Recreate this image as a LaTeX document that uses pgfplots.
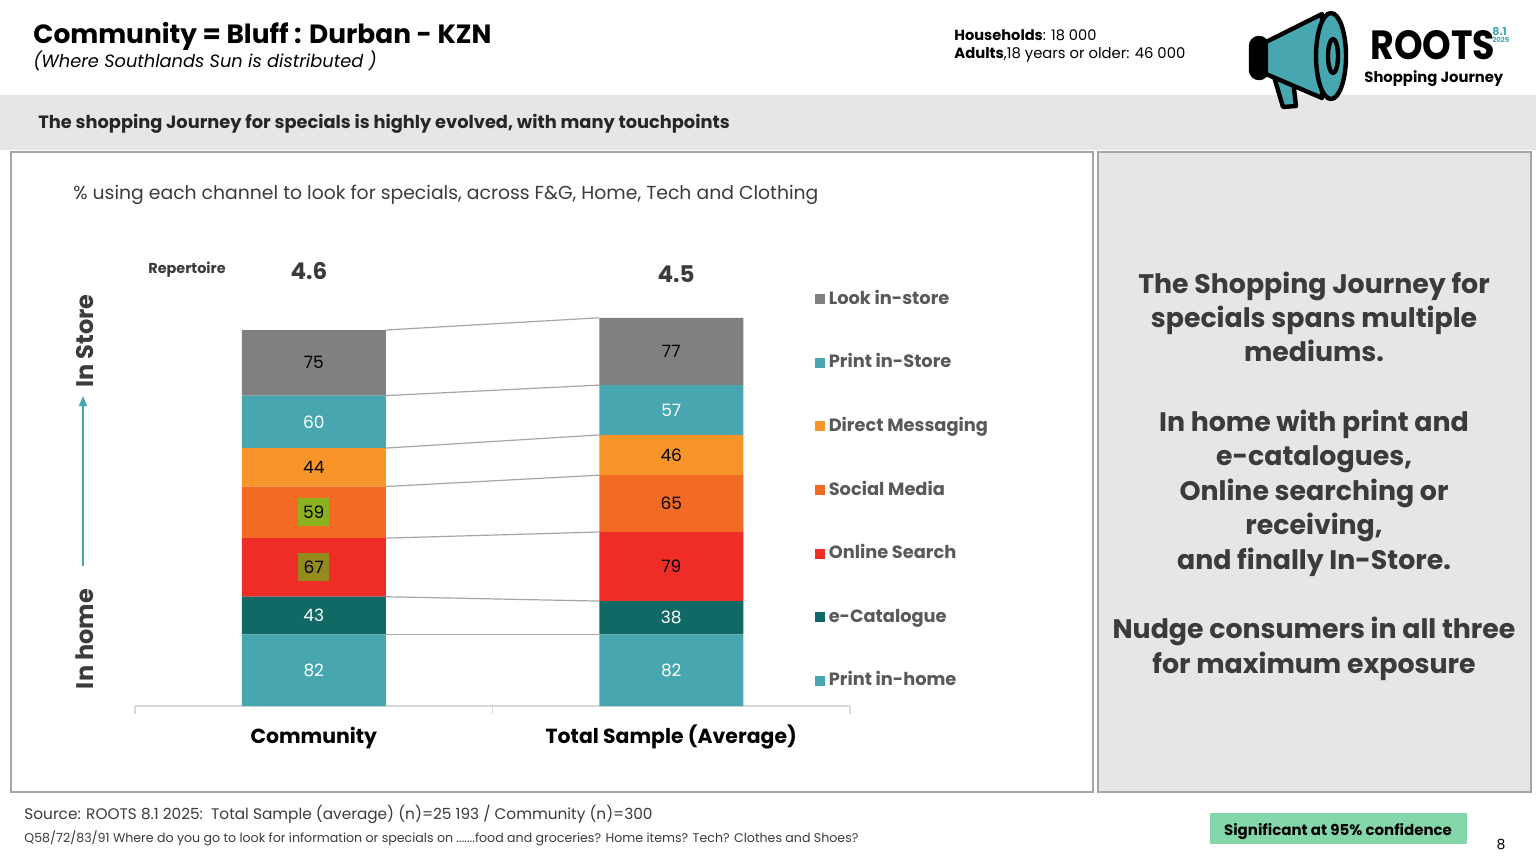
\documentclass[border=0pt]{standalone}
\usepackage{fontspec}
\setmainfont{Poppins}
\usepackage{pgfplots}
\pgfplotsset{compat=1.18}
\usetikzlibrary{arrows.meta}

\definecolor{cLS}{HTML}{808080}
\definecolor{cPS}{HTML}{48A6B0}
\definecolor{cDM}{HTML}{F7942A}
\definecolor{cSM}{HTML}{F26A23}
\definecolor{cOS}{HTML}{EE2E26}
\definecolor{cEC}{HTML}{116965}
\definecolor{cPH}{HTML}{48A6B0}
\definecolor{cBand}{HTML}{E7E6E6}
\definecolor{cFrame}{HTML}{A6A6A6}
\definecolor{cLine}{HTML}{A6A6A6}
\definecolor{cAxis}{HTML}{D9D9D9}
\definecolor{cLeg}{HTML}{595959}
\definecolor{cTxt}{HTML}{3B3B3B}
\definecolor{cSig}{HTML}{84D7AA}
\definecolor{cHiG}{HTML}{8DB01E}
\definecolor{cHiO}{HTML}{958A1D}

\newcommand{\fs}[1]{\fontsize{#1}{#1}\selectfont}

\begin{document}
\begin{tikzpicture}[x=0.5pt,y=-0.5pt]
\useasboundingbox (0,0) rectangle (1536,864);
\fill[white] (0,0) rectangle (1536,864);

% header
\node[anchor=base west,inner sep=0,font=\bfseries\fs{13.2}] at (33,43) {Community = Bluff : Durban - KZN};
\node[anchor=base west,inner sep=0,font=\itshape\fs{8.9}] at (33,67) {(Where Southlands Sun is distributed )};
\node[anchor=base west,inner sep=0,font=\fs{7.3}] at (954,40) {\textbf{Households}: 18 000};
\node[anchor=base west,inner sep=0,font=\fs{7.4}] at (954,58.5) {\textbf{Adults},18 years or older: 46 000};

% band
\fill[cBand] (0,95) rectangle (1536,150);
\node[anchor=base west,inner sep=0,font=\bfseries\fs{8.9},text=black!85] at (38,128) {The shopping Journey for specials is highly evolved, with many touchpoints};

% logo
\begin{scope}[line width=2.2pt,line join=round]
\filldraw[fill=cPS,draw=black] (1272,70) -- (1293,80) -- (1296,106) -- (1283,107) -- cycle;
\filldraw[fill=black,draw=black,rounded corners=4pt] (1251,38) rectangle (1267,78);
\filldraw[fill=cPS,draw=black] (1266,42) -- (1322,14) -- (1322,98) -- (1266,74) -- cycle;
\filldraw[fill=cPS,draw=black] (1331,56) ellipse [x radius=15,y radius=43];
\draw[black] (1333,56) ellipse [x radius=5,y radius=17];
\end{scope}
\node[anchor=base west,inner sep=0,font=\bfseries\fs{18.2},yscale=1.12] at (1370,59.5) {ROOTS};
\node[anchor=base west,inner sep=0,font=\bfseries\fs{5.5},text=cPS] at (1492,35) {8.1};
\node[anchor=base west,inner sep=0,font=\bfseries\fs{3.5},text=cPS] at (1492,42) {2025};
\node[anchor=base west,inner sep=0,font=\bfseries\fs{7.4}] at (1364,82.5) {Shopping Journey};

% frames
\draw[cFrame,line width=0.6pt] (11,152) rectangle (1093,792);
\filldraw[fill=cBand,draw=cFrame,line width=0.8pt] (1098,152) rectangle (1531,792);

% chart texts
\node[anchor=base west,inner sep=0,font=\fs{9.4},text=cTxt] at (73,199.5) {\% using each channel to look for specials, across F\&G, Home, Tech and Clothing};
\node[anchor=base west,inner sep=0,font=\bfseries\fs{7.2},text=cTxt] at (148,273) {Repertoire};
\node[anchor=base,inner sep=0,font=\bfseries\fs{11.5},text=cTxt] at (309,279) {4.6};
\node[anchor=base,inner sep=0,font=\bfseries\fs{11.5},text=cTxt] at (676,282) {4.5};
\node[anchor=base,inner sep=0,rotate=90,font=\bfseries\fs{12},text=cTxt] at (93.4,341) {In Store};
\node[anchor=base,inner sep=0,rotate=90,font=\bfseries\fs{12},text=cTxt] at (93.4,639) {In home};
\draw[cPS,line width=0.8pt,-{Triangle[length=5pt,width=4pt]}] (83,566) -- (83,396);

% stacked bars
\begin{axis}[
  at={(67.5pt,-353pt)}, anchor=south west,
  scale only axis, width=357.5pt, height=196.74pt,
  xmin=-0.5, xmax=1.5, ymin=0, ymax=450,
  ybar stacked, bar width=72pt,
  axis x line=bottom, axis y line=none,
  x axis line style={draw=cAxis,line width=0.8pt,-},
  xtick={0,1}, xticklabels={Community,Total Sample (Average)},
  major tick length=0pt, tick align=outside,
  extra x ticks={-0.5,0.5,1.5}, extra x tick labels={},
  extra x tick style={major tick length=4pt,tick style={draw=cAxis,line width=0.8pt}},
  xticklabel style={anchor=base,yshift=-18.6pt,font=\bfseries\fs{10.2},text=black},
  reverse legend,
  legend cell align=left,
  legend image code/.code={\fill[#1,draw=none] (0pt,-2.5pt) rectangle (5pt,2.5pt);},
  legend style={at={(0.951,0.549)},anchor=west,draw=none,fill=none,inner sep=0pt,
    row sep=19.4pt,font=\bfseries\fs{8.9},text=cLeg,
    nodes={inner sep=1.7pt,text height=7pt,text depth=2pt}},
]
\addplot[fill=cPH,draw=none] coordinates {(0,82) (1,82)};
\addplot[fill=cEC,draw=none] coordinates {(0,43) (1,38)};
\addplot[fill=cOS,draw=none] coordinates {(0,67) (1,79)};
\addplot[fill=cSM,draw=none] coordinates {(0,59) (1,65)};
\addplot[fill=cDM,draw=none] coordinates {(0,44) (1,46)};
\addplot[fill=cPS,draw=none] coordinates {(0,60) (1,57)};
\addplot[fill=cLS,draw=none] coordinates {(0,75) (1,77)};
\legend{Print in-home,e-Catalogue,Online Search,Social Media,Direct Messaging,Print in-Store,Look in-store}
\end{axis}

% series lines and value labels
\begin{axis}[
  at={(67.5pt,-353pt)}, anchor=south west,
  scale only axis, width=357.5pt, height=196.74pt,
  xmin=-0.5, xmax=1.5, ymin=0, ymax=450,
  hide axis, clip=false,
  point meta=explicit symbolic,
]
\addplot[cLine,line width=0.6pt] coordinates {(0.2014,82) (0.7986,82)};
\addplot[cLine,line width=0.6pt] coordinates {(0.2014,125) (0.7986,120)};
\addplot[cLine,line width=0.6pt] coordinates {(0.2014,192) (0.7986,199)};
\addplot[cLine,line width=0.6pt] coordinates {(0.2014,251) (0.7986,264)};
\addplot[cLine,line width=0.6pt] coordinates {(0.2014,295) (0.7986,310)};
\addplot[cLine,line width=0.6pt] coordinates {(0.2014,355) (0.7986,367)};
\addplot[cLine,line width=0.6pt] coordinates {(0.2014,430) (0.7986,444)};
\addplot[only marks,mark=none,nodes near coords,nodes near coords align=center,
  every node near coord/.style={text=white,font=\fs{8.5}}]
  coordinates {(0,41) [82] (1,41) [82] (0,103.5) [43] (1,101) [38] (0,325) [60] (1,338.5) [57]};
\addplot[only marks,mark=none,nodes near coords,nodes near coords align=center,
  every node near coord/.style={text=black,font=\fs{8.5}}]
  coordinates {(0,392.5) [75] (1,405.5) [77] (0,273) [44] (1,287) [46] (1,231.5) [65] (1,159.5) [79]};
\addplot[only marks,mark=none,nodes near coords,nodes near coords align=center,
  every node near coord/.style={text=black,font=\fs{8.5},fill=cHiG,minimum width=15.5pt,minimum height=14pt,inner sep=0pt}]
  coordinates {(0,221.5) [59]};
\addplot[only marks,mark=none,nodes near coords,nodes near coords align=center,
  every node near coord/.style={text=black,font=\fs{8.5},fill=cHiO,minimum width=15.5pt,minimum height=14pt,inner sep=0pt}]
  coordinates {(0,158.5) [67]};
\end{axis}

% right panel
\begin{scope}[every node/.style={anchor=base,inner sep=0,font=\bfseries\fs{13.4},text=cTxt}]
\node at (1314,293.4) {The Shopping Journey for};
\node at (1314,327.4) {specials spans multiple};
\node at (1314,361.4) {mediums.};
\node at (1314,431.4) {In home with print and};
\node at (1314,465.4) {e-catalogues,};
\node at (1314,500.4) {Online searching or};
\node at (1314,534.4) {receiving,};
\node at (1314,569.4) {and finally In-Store.};
\node at (1314,638.4) {Nudge consumers in all three};
\node at (1314,673.4) {for maximum exposure};
\end{scope}

% footer
\node[anchor=base west,inner sep=0,font=\fs{7.66},text=cTxt] at (24,819) {Source: ROOTS 8.1 2025:\ \ Total Sample (average) (n)=25 193 / Community (n)=300};
\node[anchor=base west,inner sep=0,font=\fs{6.3},text=cTxt] at (24,842) {Q58/72/83/91 Where do you go to look for information or specials on .......food and groceries? Home items? Tech? Clothes and Shoes?};
\fill[cSig] (1210,813) rectangle (1467,844);
\node[anchor=base,inner sep=0,font=\bfseries\fs{7.5}] at (1338,835.5) {Significant at 95\% confidence};
\node[anchor=base,inner sep=0,font=\fs{7}] at (1501,849) {8};
\end{tikzpicture}
\end{document}
